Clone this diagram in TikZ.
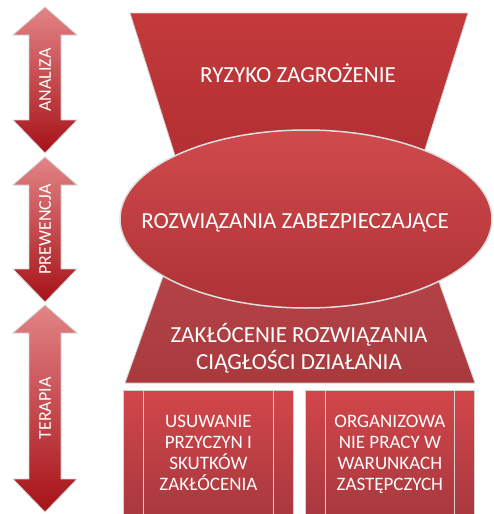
\documentclass[tikz,border=0pt]{standalone}
\usepackage{fontspec}
\setmainfont{Carlito}
\usetikzlibrary{shapes,positioning,calc}

\definecolor{arrowtop}{RGB}{226,132,134}
\definecolor{arrowmid}{RGB}{200,58,62}
\definecolor{arrowbot}{RGB}{166,18,24}
\definecolor{risktop}{RGB}{196,58,60}
\definecolor{riskbot}{RGB}{172,44,48}
\definecolor{soltop}{RGB}{208,74,76}
\definecolor{solbot}{RGB}{174,50,54}
\definecolor{distop}{RGB}{184,70,74}
\definecolor{disbot}{RGB}{168,58,62}
\definecolor{boxtop}{RGB}{210,70,74}
\definecolor{boxbot}{RGB}{166,56,62}

\begin{document}
\begin{tikzpicture}[x=1pt, y=-1pt,
    rim/.style={draw=gray!35, line width=0.8pt},
    whitetext/.style={text=white, align=center, inner sep=0pt, font=\fontsize{23}{27}\selectfont},
    boxtext/.style={text=white, align=center, font=\fontsize{19}{21}\selectfont},
    arrowfill/.style={rim, top color=arrowtop, middle color=arrowmid, bottom color=arrowbot}]
    \useasboundingbox (0,0) rectangle (493,514);

    % side arrows
    \foreach \ytop/\ybot/\name/\word in {7/153/analysis/ANALIZA, 157/302/prevention/PREWENCJA, 305/512/therapy/TERAPIA} {
        \shade[arrowfill] (45,\ytop) -- (77,\ytop+28) -- (61,\ytop+28) -- (61,\ybot-33) -- (77,\ybot-33) -- (45,\ybot)
            -- (13,\ybot-33) -- (29,\ybot-33) -- (29,\ytop+28) -- (13,\ytop+28) -- cycle;
        \node (\name) [whitetext, rotate=90, font=\fontsize{18}{20}\selectfont] at (45,{(\ytop+\ybot)/2}) {\word};
    }

    % upper and middle trapezoids
    \shade[rim, top color=risktop, bottom color=riskbot] (130,13) -- (468,13) -- (409,200) -- (189,200) -- cycle;
    \node (risk) [whitetext] at (298,73) {RYZYKO ZAGROŻENIE};

    \shade[rim, top color=distop, bottom color=disbot] (176,240) -- (424,240) -- (475,383) -- (125,383) -- cycle;
    \node (disruption) [whitetext] at (299,348) {ZAKŁÓCENIE ROZWIĄZANIA\\CIĄGŁOŚCI DZIAŁANIA};

    % central ellipse
    \node (solution) [ellipse, draw=gray!25, line width=1.5pt, top color=soltop, bottom color=solbot,
        minimum width=372pt, minimum height=178pt] at (306,219) {};
    \node (soltext) [whitetext] at (295,223) {ROZWIĄZANIA ZABEZPIECZAJĄCE};

    % bottom boxes
    \node (remove) [rim, top color=boxtop, bottom color=boxbot, boxtext, anchor=north west,
        minimum width=170pt, minimum height=130pt, text depth=6pt] at (123,390) {USUWANIE\\PRZYCZYN I\\SKUTKÓW\\ZAKŁÓCENIA};
    \node (organise) [rim, top color=boxtop, bottom color=boxbot, boxtext, anchor=north west,
        minimum width=169pt, minimum height=130pt, text depth=6pt] at (305,390) {ORGANIZOWA\\NIE PRACY W\\WARUNKACH\\ZASTĘPCZYCH};
    \foreach \blk in {remove, organise} {
        \draw[rim] ([xshift=20pt]\blk.north west) -- ([xshift=20pt]\blk.south west);
        \draw[rim] ([xshift=-20pt]\blk.north east) -- ([xshift=-20pt]\blk.south east);
    }
\end{tikzpicture}
\end{document}
